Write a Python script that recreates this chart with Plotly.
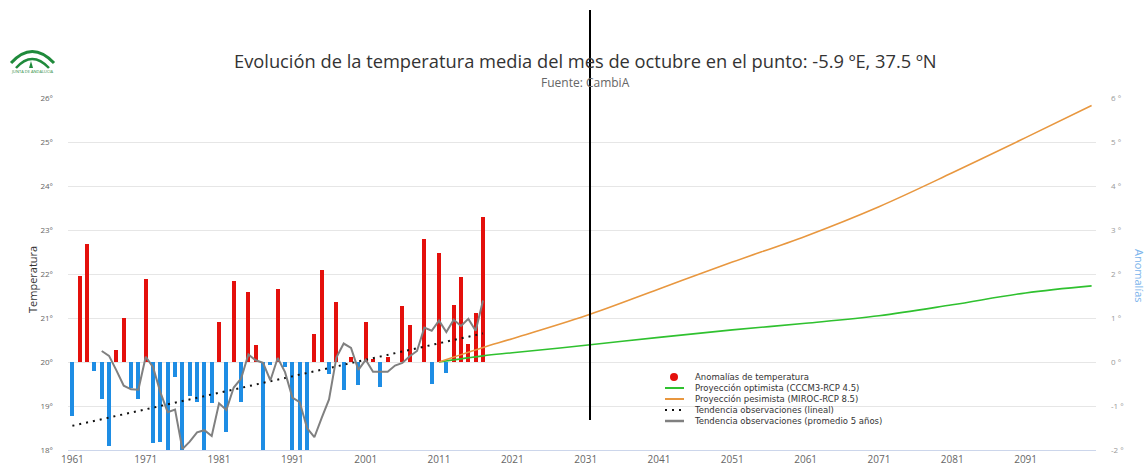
import plotly.graph_objects as go

# ---------------- data ----------------
years = list(range(1961, 2018))
anomalies = [-1.23, 1.95, 2.68, -0.21, -0.85, -1.92, 0.27, 1.00, -0.60, -0.85,
             1.89, -1.85, -1.82, -2.20, -0.33, -2.20, -0.77, -0.91, -2.20, -0.94,
             0.91, -1.59, 1.84, -0.91, 1.60, 0.38, -2.20, -0.06, 1.66, -0.12,
             -2.20, -2.20, -2.20, 0.64, 2.10, -0.27, 1.37, -0.64, 0.12, -0.52,
             0.92, 0.07, -0.56, 0.12, 0.00, 1.28, 0.85, 0.00, 2.80, -0.51,
             2.47, -0.25, 1.30, 1.94, 0.40, 1.12, 3.30]

avg_years = list(range(1965, 2018))
avg5 = [0.25, 0.14, -0.19, -0.54, -0.62, -0.63, 0.12, -0.12, -0.69, -1.14,
        -1.08, -1.98, -1.81, -1.60, -1.55, -1.68, -0.94, -1.09, -0.58, -0.38,
        0.17, 0.04, -0.02, -0.42, 0.09, -0.23, -0.81, -0.91, -1.50, -1.71,
        -1.27, -0.85, 0.10, 0.42, 0.32, -0.18, 0.05, -0.22, -0.22, -0.22,
        -0.08, -0.02, 0.13, 0.25, 0.78, 0.71, 0.94, 0.68, 0.96, 0.82,
        0.98, 0.71, 1.40]

trend_years = [1961, 2017]
trend_vals = [-1.45, 0.65]

proj_years = [2011, 2017, 2021, 2031, 2041, 2051, 2061, 2071, 2081, 2091, 2100]
proj_opt = [0.00, 0.14, 0.21, 0.38, 0.56, 0.73, 0.88, 1.05, 1.30, 1.57, 1.73]
proj_pes = [0.00, 0.33, 0.53, 1.05, 1.66, 2.27, 2.86, 3.53, 4.30, 5.10, 5.83]

left_ticks = [-2, -1, 0, 1, 2, 3, 4, 5, 6]
left_labels = ["18°", "19°", "20°", "21°", "22°", "23°", "24°", "25°", "26°"]
right_labels = ["-2 °", "-1 °", "0 °", "1 °", "2 °", "3 °", "4 °", "5 °", "6 °"]
x_ticks = list(range(1961, 2100, 10))

legend_names = ["Anomalías de temperatura",
                "Proyección optimista (CCCM3-RCP 4.5)",
                "Proyección pesimista (MIROC-RCP 8.5)",
                "Tendencia observaciones (lineal)",
                "Tendencia observaciones (promedio 5 años)"]

title_text = "Evolución de la temperatura media del mes de octubre en el punto: -5.9 ºE, 37.5 ºN"
subtitle_text = "Fuente: CambiA"
left_title = "Temperatura"
right_title = "Anomalías"

RED = "#e4100c"
BLUE = "#1e8de4"
GREEN = "#2fc12f"
ORANGE = "#e8973f"
DOT = "#111111"
GRAY = "#808080"
FONT = "Open Sans"
DOT_DASH = "2px,5px"

# ---------------- layout geometry (pixels) ----------------
W, H = 1148, 466
PL, PR, PT, PB = 68, 1096, 98, 450


def px(x):
    return (x - PL) / (PR - PL)


def py(y):
    return (PB - y) / (PB - PT)


fig = go.Figure()

bar_colors = [RED if v > 0 else BLUE for v in anomalies]
fig.add_trace(go.Bar(x=years, y=anomalies, marker=dict(color=bar_colors, line=dict(width=0)),
                     width=0.55, name=legend_names[0]))
fig.add_trace(go.Scatter(x=proj_years, y=proj_opt, mode="lines", line_shape="spline",
                         line=dict(color=GREEN, width=1.6), name=legend_names[1]))
fig.add_trace(go.Scatter(x=proj_years, y=proj_pes, mode="lines", line_shape="spline",
                         line=dict(color=ORANGE, width=1.6), name=legend_names[2]))
fig.add_trace(go.Scatter(x=trend_years, y=trend_vals, mode="lines",
                         line=dict(color=DOT, width=2, dash=DOT_DASH), name=legend_names[3]))
fig.add_trace(go.Scatter(x=avg_years, y=avg5, mode="lines",
                         line=dict(color=GRAY, width=2), name=legend_names[4]))
# invisible trace on the right axis so that it is drawn
fig.add_trace(go.Scatter(x=[None], y=[None], yaxis="y2", mode="lines", showlegend=False,
                         hoverinfo="skip"))

shapes = []
annotations = []

# vertical black line present in the reference picture
shapes.append(dict(type="line", xref="paper", yref="paper",
                   x0=px(590), x1=px(590), y0=py(420), y1=py(10),
                   line=dict(color="black", width=2)))


# logo (two green arcs + small tree)
def qpath(p0, c, p1):
    return "M %.4f,%.4f Q %.4f,%.4f %.4f,%.4f" % (px(p0[0]), py(p0[1]), px(c[0]), py(c[1]),
                                                 px(p1[0]), py(p1[1]))


shapes.append(dict(type="path", xref="paper", yref="paper",
                   path=qpath((11, 63), (32, 40), (54, 63)),
                   line=dict(color="#1f8a3b", width=3)))
shapes.append(dict(type="path", xref="paper", yref="paper",
                   path=qpath((16, 68), (32, 50), (49, 68)),
                   line=dict(color="#1f8a3b", width=2.5)))
shapes.append(dict(type="path", xref="paper", yref="paper",
                   path="M %.4f,%.4f L %.4f,%.4f L %.4f,%.4f Z" % (px(29), py(68), px(31), py(61),
                                                                  px(33), py(68)),
                   fillcolor="#1f8a3b", line=dict(width=0)))
annotations.append(dict(text="JUNTA DE ANDALUCIA", x=px(32), y=py(72), xref="paper", yref="paper",
                        showarrow=False, xanchor="center", yanchor="middle",
                        font=dict(family=FONT, size=4, color="#1f8a3b")))

# title / subtitle
annotations.append(dict(text=title_text, x=px(585), y=py(60), xref="paper", yref="paper",
                        showarrow=False, xanchor="center", yanchor="middle",
                        font=dict(family=FONT, size=18.3, color="#333333")))
annotations.append(dict(text=subtitle_text, x=px(585), y=py(82), xref="paper", yref="paper",
                        showarrow=False, xanchor="center", yanchor="middle",
                        font=dict(family=FONT, size=12, color="#666666")))

# axis titles
annotations.append(dict(text=left_title, x=px(32), y=py(280), xref="paper", yref="paper",
                        showarrow=False, xanchor="center", yanchor="middle", textangle=-90,
                        font=dict(family=FONT, size=11, color="#333333")))
annotations.append(dict(text=right_title, x=px(1140), y=py(276), xref="paper", yref="paper",
                        showarrow=False, xanchor="center", yanchor="middle", textangle=90,
                        font=dict(family=FONT, size=11, color="#7cb5ec")))

# compact legend (Highcharts style)
LX0, LX1, LTX = 665, 684, 693
row_y = [377, 388, 399, 410, 421]
shapes.append(dict(type="circle", xref="paper", yref="paper",
                   x0=px(670), x1=px(678), y0=py(381), y1=py(373),
                   fillcolor=RED, line=dict(width=0)))
for yy, col, dash, wdt in [(row_y[1], GREEN, "solid", 2), (row_y[2], ORANGE, "solid", 2),
                           (row_y[3], DOT, DOT_DASH, 2), (row_y[4], GRAY, "solid", 2.5)]:
    shapes.append(dict(type="line", xref="paper", yref="paper",
                       x0=px(LX0), x1=px(LX1), y0=py(yy), y1=py(yy),
                       line=dict(color=col, width=wdt, dash=dash)))
annotations.append(dict(text="<br>".join(legend_names), x=px(LTX), y=py(row_y[2]),
                        xref="paper", yref="paper", showarrow=False, align="left",
                        xanchor="left", yanchor="middle", borderpad=0,
                        font=dict(family="DejaVu Sans", size=8.5, color="#333333")))

fig.update_layout(
    width=W, height=H, autosize=False,
    margin=dict(l=PL, r=W - PR, t=PT, b=H - PB, pad=0, autoexpand=False),
    paper_bgcolor="white", plot_bgcolor="white",
    bargap=0,
    font=dict(family=FONT, color="#666666"),
    showlegend=False,
    xaxis=dict(range=[1960.4, 2100.6], tickmode="array", tickvals=x_ticks, automargin=False,
               ticktext=[str(t) for t in x_ticks], showgrid=False, zeroline=False,
               showline=True, linecolor="#ccd6eb", linewidth=1,
               ticks="", tickfont=dict(family=FONT, size=10, color="#666666")),
    yaxis=dict(range=[-2, 6], tickmode="array", tickvals=left_ticks, ticktext=left_labels,
               showgrid=True, gridcolor="#e6e6e6", gridwidth=1, zeroline=False,
               ticks="", ticklabelstandoff=14, automargin=False,
               tickfont=dict(family=FONT, size=8, color="#666666")),
    yaxis2=dict(range=[-2, 6], overlaying="y", side="right", tickmode="array",
                tickvals=left_ticks, ticktext=right_labels, showgrid=False, zeroline=False,
                ticks="", ticklabelstandoff=14, automargin=False,
                tickfont=dict(family=FONT, size=8, color="#999999")),
    shapes=shapes,
    annotations=annotations,
)

fig.write_html("out.html", config={"displayModeBar": False},
               post_script="document.body.style.margin='0';")
